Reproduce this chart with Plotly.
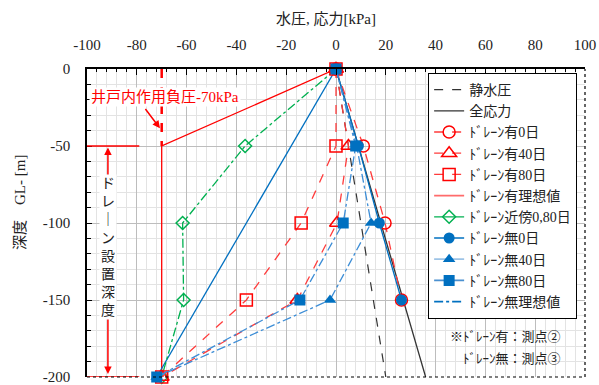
import plotly.graph_objects as go

depth = [0, -50, -100, -150, -200]
depth4 = [0, -50, -100, -150]

hydro_x = [0, 20]
hydro_y = [0, -200]
total_x = [0, 36]
total_y = [0, -200]

ari_0 = [0, 11, 19.7, 26.3]
ari_40 = [0, 5, 0.4, -15.5, -70]
ari_80 = [0, 0, -14, -36, -70]
ari_ideal_x = [0, -70, -70]
ari_ideal_y = [0, -50, -200]
kinbo = [0, -36.5, -61.6, -61.2, -70]
nashi_0 = [0, 9, 17.4, 26.3]
nashi_40 = [0, 8.3, 14.1, -2.4, -72]
nashi_80 = [0, 7.9, 2.9, -14.5, -72]
nashi_ideal_x = [0, -72]
nashi_ideal_y = [0, -200]

x_tickvals = [-100, -80, -60, -40, -20, 0, 20, 40, 60, 80, 100]
x_ticktext = ["-100", "-80", "-60", "-40", "-20", "0", "20", "40", "60", "80", "100"]
y_tickvals = [0, -50, -100, -150, -200]
y_ticktext = ["0", "-50", "-100", "-150", "-200"]

RED = "#FF0000"
REDL = "#FF3B3B"
BLUE = "#0070C0"
BLUEL = "#3C8DD6"
GREEN = "#00B050"
FONT = "Liberation Serif, Noto Sans CJK JP"

fig = go.Figure()

def mk(symbol, size, mc, fill):
    if not symbol:
        return None
    if fill:
        return dict(symbol=symbol, size=size, color=mc)
    return dict(symbol=symbol + "-open", size=size, color=mc, line=dict(width=1.5, color=mc))

def add(x, y, name, color, dash, symbol=None, size=11, mcolor=None, fill=True, lw=1.3):
    mode = "lines+markers" if symbol else "lines"
    fig.add_trace(go.Scatter(x=x, y=y, mode=mode, name=name, showlegend=False,
                             line=dict(color=color, dash=dash, width=lw),
                             marker=mk(symbol, size, mcolor or color, fill),
                             cliponaxis=False))

def leg(name, color, dash, symbol=None, size=11, mcolor=None, fill=True, lw=1.3):
    mode = "lines+markers" if symbol else "lines"
    fig.add_trace(go.Scatter(x=[None], y=[None], mode=mode, name=name,
                             line=dict(color=color, dash=dash, width=lw),
                             marker=mk(symbol, size, mcolor or color, fill)))

# data traces
add(hydro_x, hydro_y, "静水圧", "#333333", "dash", lw=1.2)
add(total_x, total_y, "全応力", "#333333", "solid", lw=1.3)
add(ari_ideal_x, ari_ideal_y, "ﾄﾞﾚｰﾝ有理想値", RED, "solid")
add(nashi_ideal_x, nashi_ideal_y, "ﾄﾞﾚｰﾝ無理想値", BLUE, "solid")
add(kinbo, depth, "ﾄﾞﾚｰﾝ近傍0,80日", GREEN, "dashdot", "diamond", 10, fill=False)
add(ari_0, depth4, "ﾄﾞﾚｰﾝ有0日", REDL, "dash", "circle", 12, RED, fill=False)
add(ari_40, depth, "ﾄﾞﾚｰﾝ有40日", REDL, "dash", "triangle-up", 13, RED, fill=False)
add(ari_80, depth, "ﾄﾞﾚｰﾝ有80日", REDL, "dash", "square", 12, RED, fill=False)
add(nashi_0, depth4, "ﾄﾞﾚｰﾝ無0日", BLUE, "solid", "circle", 11)
add(nashi_40, depth, "ﾄﾞﾚｰﾝ無40日", BLUEL, "dashdot", "triangle-up", 11, BLUE)
add(nashi_80, depth, "ﾄﾞﾚｰﾝ無80日", BLUEL, "dashdot", "square", 11, BLUE)

# legend entries
leg("静水圧", "#333333", "dash", lw=1.2)
leg("全応力", "#333333", "solid")
leg("ﾄﾞﾚｰﾝ有0日", REDL, "dash", "circle", 12, RED, fill=False)
leg("ﾄﾞﾚｰﾝ有40日", REDL, "dash", "triangle-up", 13, RED, fill=False)
leg("ﾄﾞﾚｰﾝ有80日", REDL, "dash", "square", 12, RED, fill=False)
leg("ﾄﾞﾚｰﾝ有理想値", "#FF6B6B", "solid", lw=1.8)
leg("ﾄﾞﾚｰﾝ近傍0,80日", GREEN, "solid", "diamond", 10, fill=False)
leg("ﾄﾞﾚｰﾝ無0日", BLUE, "solid", "circle", 11)
leg("ﾄﾞﾚｰﾝ無40日", "#9DC3E6", "solid", "triangle-up", 11, BLUE, lw=1.8)
leg("ﾄﾞﾚｰﾝ無80日", "#4A90D0", "solid", "square", 11, BLUE, lw=1.8)
leg("ﾄﾞﾚｰﾝ無理想値", BLUE, "dashdot", lw=1.8)

shapes = [
    dict(type="line", xref="x", yref="y", x0=-70, x1=-70, y0=0, y1=-50,
         line=dict(color=RED, width=2.5, dash="dash")),
    dict(type="line", xref="x", yref="y", x0=-100, x1=-79, y0=-50, y1=-50,
         line=dict(color=RED, width=1.5)),
    dict(type="line", xref="x", yref="y", x0=-100, x1=-79, y0=-200, y1=-200,
         line=dict(color=RED, width=1.5)),
    dict(type="line", xref="paper", yref="paper", x0=0, x1=1, y0=0, y1=0,
         line=dict(color="black", width=1.2, dash="dot")),
    dict(type="line", xref="paper", yref="paper", x0=1, x1=1, y0=0, y1=1,
         line=dict(color="black", width=1.2, dash="dot")),
]

annotations = [
    dict(text="水圧, 応力[kPa]", xref="paper", yref="paper", x=0.48, y=1.0, yshift=50,
         showarrow=False, font=dict(family=FONT, size=15, color="#222"), xanchor="center", yanchor="middle"),
    dict(text="深度　GL- [m]", xref="paper", yref="paper", x=0, xshift=-67, y=0.565,
         showarrow=False, textangle=-90, font=dict(family=FONT, size=15, color="#222"),
         xanchor="center", yanchor="middle"),
    dict(text="井戸内作用負圧-70kPa", xref="x", yref="y", x=-99, y=-18, showarrow=False,
         xanchor="left", yanchor="middle", bgcolor="white",
         font=dict(family=FONT, size=15, color=RED)),
    dict(text="", xref="x", yref="y", x=-70.7, y=-38.5, axref="x", ayref="y", ax=-77, ay=-25,
         showarrow=True, arrowhead=2, arrowsize=1, arrowwidth=1.5, arrowcolor=RED),
    dict(text="", xref="x", yref="y", x=-91.6, y=-51, axref="x", ayref="y", ax=-91.6, ay=-71,
         showarrow=True, arrowhead=2, arrowsize=1, arrowwidth=1.5, arrowcolor=RED),
    dict(text="", xref="x", yref="y", x=-91.6, y=-198, axref="x", ayref="y", ax=-91.6, ay=-161,
         showarrow=True, arrowhead=2, arrowsize=1, arrowwidth=1.5, arrowcolor=RED),
    dict(text="ド<br>レ<br>｜<br>ン<br>設<br>置<br>深<br>度", xref="x", yref="y", x=-91.6, y=-115.5,
         showarrow=False, bgcolor="white", font=dict(family=FONT, size=14, color="#222"),
         xanchor="center", yanchor="middle"),
    dict(text="※ﾄﾞﾚｰﾝ有：測点②", xref="x", yref="y", x=91, y=-174,
         showarrow=False, xanchor="right", yanchor="middle",
         font=dict(family=FONT, size=13, color="#222")),
    dict(text="ﾄﾞﾚｰﾝ無：測点③", xref="x", yref="y", x=91, y=-187.7,
         showarrow=False, xanchor="right", yanchor="middle",
         font=dict(family=FONT, size=13, color="#222")),
]

fig.update_layout(
    width=599, height=385,
    margin=dict(l=87, r=14, t=69, b=8),
    paper_bgcolor="white", plot_bgcolor="white",
    font=dict(family=FONT, size=15, color="#222"),
    shapes=shapes, annotations=annotations,
    legend=dict(x=0.685, y=0.987, xanchor="left", yanchor="top", bgcolor="white",
                bordercolor="black", borderwidth=1, font=dict(family=FONT, size=14, color="#222"),
                tracegroupgap=0, itemwidth=30),
    xaxis=dict(range=[-100, 100], side="top", tickvals=x_tickvals, ticktext=x_ticktext,
               automargin=False, ticklabeloverflow="allow",
               showgrid=True, gridcolor="#bdbdbd", gridwidth=1, zeroline=False,
               showline=True, linecolor="black", linewidth=1.5,
               ticks="inside", ticklen=6, tickcolor="black", ticklabelstandoff=11,
               tickfont=dict(family=FONT, size=15, color="#222"),
               minor=dict(dtick=4, tick0=0, showgrid=True, gridcolor="#e3e3e3", ticks="inside", ticklen=3, tickcolor="black")),
    yaxis=dict(range=[-200, 0], tickvals=y_tickvals, ticktext=y_ticktext,
               showgrid=True, gridcolor="#bdbdbd", zeroline=False,
               automargin=False, ticklabeloverflow="allow",
               showline=True, linecolor="black", linewidth=1.5,
               ticks="inside", ticklen=5, tickcolor="black", ticklabelstandoff=12,
               tickfont=dict(family=FONT, size=15, color="#222"),
               minor=dict(dtick=10, tick0=0, showgrid=True, gridcolor="#e3e3e3", ticks="inside", ticklen=4, tickcolor="black")),
)

fig.write_html("out.html", config={"displayModeBar": False},
               post_script="document.body.style.margin='0';document.body.style.overflow='hidden';")
